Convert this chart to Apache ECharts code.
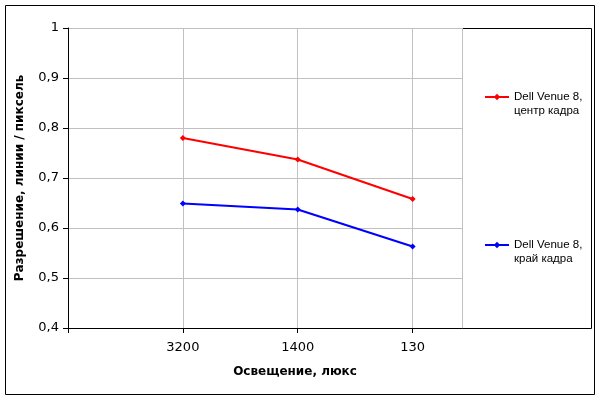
<!DOCTYPE html>
<html>
<head>
<meta charset="utf-8">
<script src="https://cdn.jsdelivr.net/npm/echarts@6/dist/echarts.min.js"></script>
<style>
  html, body { margin: 0; padding: 0; background: #fff; }
  #chart { width: 600px; height: 400px; }
</style>
</head>
<body>
<div id="chart"></div>
<script>
// lux levels, left to right
const categories = ["3200", "1400", "130"];
const centerValues = [0.78, 0.737, 0.658];
const edgeValues = [0.649, 0.637, 0.563];
const seriesNames = ["Dell Venue 8,\nцентр кадра", "Dell Venue 8,\nкрай кадра"];

const font = "Liberation Sans, Arial, sans-serif";
const wideFont = "DejaVu Sans, Verdana, sans-serif";

// categories sit at x = 1, 2, 3 on a value axis so the right margin can be wider
const toPoints = (values) => values.map((v, i) => [i + 1, v]);
const comma = (v) => String(v).replace(".", ",");

const chart = echarts.init(document.getElementById("chart"));

const lineSeries = (name, values, color) => ({
  name: name,
  type: "line",
  data: toPoints(values),
  symbol: "diamond",
  symbolSize: 6,
  lineStyle: { color: color, width: 2 },
  itemStyle: { color: color },
  animation: false,
});

// blank first line so the icon lines up with the first line of the name
const legendItem = (name, top) => ({
  data: [name],
  left: 479,
  top: top,
  orient: "vertical",
  itemWidth: 24,
  itemHeight: 8,
  formatter: (n) => " \n" + n,
  textStyle: {
    fontFamily: font,
    fontSize: 11.5,
    color: "#000",
    lineHeight: 14,
  },
});

chart.setOption({
  backgroundColor: "#fff",
  grid: { left: 68, top: 28, right: 138, bottom: 72 },
  xAxis: {
    type: "value",
    min: 0,
    max: 3.43,
    interval: 1,
    name: "Освещение, люкс",
    nameLocation: "middle",
    nameGap: 38,
    nameTextStyle: {
      fontFamily: wideFont, fontSize: 12, fontWeight: "bold", color: "#000",
      padding: [0, 0, 0, 60],
    },
    axisLine: { lineStyle: { color: "#000", width: 1 } },
    axisTick: { show: true, length: 5, inside: false, lineStyle: { color: "#000" } },
    axisLabel: {
      fontFamily: wideFont,
      fontSize: 13,
      color: "#000",
      margin: 13,
      showMaxLabel: false,
      formatter: (v) => (Number.isInteger(v) && v >= 1 ? categories[v - 1] : ""),
    },
    splitLine: { show: true, lineStyle: { color: "#c0c0c0", width: 1 } },
  },
  yAxis: {
    type: "value",
    min: 0.4,
    max: 1,
    interval: 0.1,
    name: "Разрешение, линии / пиксель",
    nameLocation: "middle",
    nameGap: 42,
    nameTextStyle: { fontFamily: wideFont, fontSize: 12, fontWeight: "bold", color: "#000" },
    axisLine: { show: true, lineStyle: { color: "#000", width: 1 } },
    axisTick: { show: true, length: 5, lineStyle: { color: "#000" } },
    axisLabel: {
      fontFamily: wideFont,
      fontSize: 13,
      color: "#000",
      margin: 9,
      formatter: (v) => comma(Math.round(v * 10) / 10),
    },
    splitLine: { show: true, lineStyle: { color: "#c0c0c0", width: 1 } },
  },
  legend: [legendItem(seriesNames[0], 71), legendItem(seriesNames[1], 219)],
  graphic: [
    {
      type: "rect",
      shape: { x: 5.5, y: 5.5, width: 589, height: 389 },
      style: { fill: "none", stroke: "#000", lineWidth: 1 },
      silent: true,
    },
    {
      type: "rect",
      shape: { x: 462.5, y: 28.5, width: 129, height: 300 },
      style: { fill: "none", stroke: "#000", lineWidth: 1 },
      silent: true,
    },
  ],
  series: [
    lineSeries(seriesNames[0], centerValues, "#ff0000"),
    lineSeries(seriesNames[1], edgeValues, "#0000ff"),
  ],
});
</script>
</body>
</html>
